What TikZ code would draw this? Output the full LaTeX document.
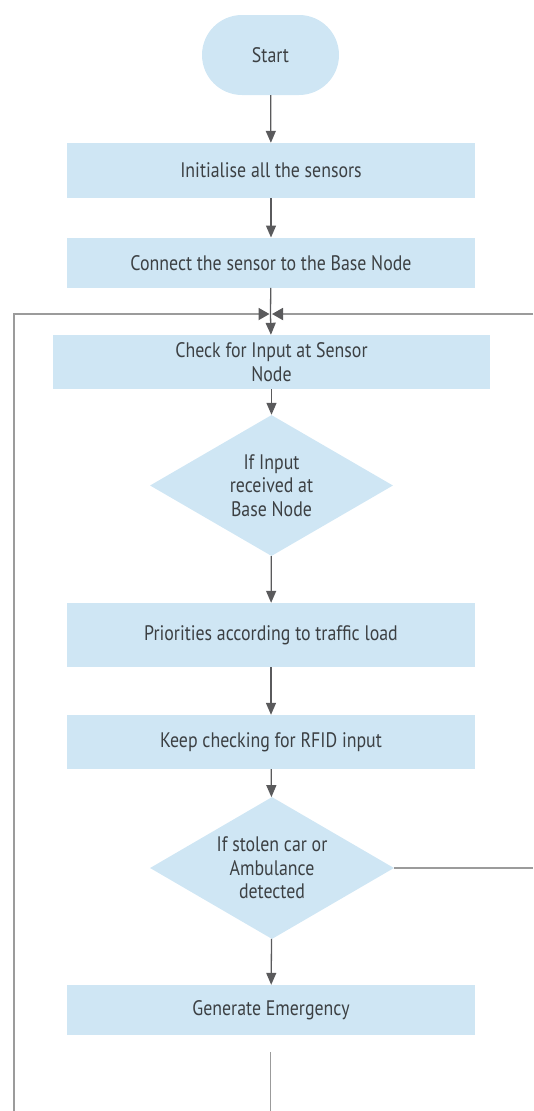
\documentclass[tikz,border=0pt]{standalone}
\usepackage{fontspec}
\setmainfont[FakeStretch=0.85]{PT Sans}
\usetikzlibrary{arrows.meta,shapes.geometric}
\definecolor{boxfill}{RGB}{207,230,244}
\definecolor{txtgray}{RGB}{60,64,67}
\definecolor{arrgray}{RGB}{90,90,92}
\definecolor{loopgray}{RGB}{155,155,155}
\tikzset{
  procbox/.style={rectangle, fill=boxfill, text=txtgray, minimum width=408pt, align=center, inner sep=0pt},
  decbox/.style={diamond, aspect=1.72, fill=boxfill, text=txtgray, align=center, inner sep=-15pt, minimum width=243pt, minimum height=141pt},
  flow/.style={draw=arrgray, line width=1.3pt, -{Triangle[length=12pt,width=10pt]}},
  loopline/.style={draw=loopgray, line width=1.8pt},
  looptip/.style={-{Triangle[length=11pt,width=12pt,color=arrgray]}},
}
\begin{document}
\begin{tikzpicture}[x=1pt,y=-1pt,font=\fontsize{21}{23.5}\selectfont]
      \useasboundingbox (0,0) rectangle (533,1111);
      \node[procbox, minimum width=137pt, minimum height=80pt, rounded corners=40pt] (start) at (270.5,55) {Start};
      \node[procbox, minimum height=55pt] (init) at (271,170.5) {Initialise all the sensors};
      \node[procbox, minimum height=50pt] (connect) at (271,262.7) {Connect the sensor to the Base Node};
      \node[procbox, minimum width=437pt, minimum height=54pt] (check) at (271.5,362) {Check for Input at Sensor\\Node};
      \node[decbox] (ifinput) at (271.5,485.5) {If Input\\received at\\Base Node};
      \node[procbox, minimum height=64pt] (prio) at (271,635) {Priorities according to traffic load};
      \node[procbox, minimum height=54pt] (rfid) at (271,742) {Keep checking for RFID input};
      \node[decbox, minimum width=244pt, minimum height=142pt] (ifstolen) at (272,868) {If stolen car or\\Ambulance\\detected};
      \node[procbox, minimum height=50pt] (emerg) at (271,1010) {Generate Emergency};

      \coordinate (join) at (270.5,314);
      \coordinate (leftbot) at (13.6,1111);
      \coordinate (leftup) at (13.6,314);
      \coordinate (rightup) at (533,314);
      \coordinate (rightout) at (533,868);
      \coordinate (tailtop) at (270.5,1052);
      \coordinate (tailbot) at (270.5,1111);

      \draw[flow] (start) -- (init);
      \draw[flow] (init) -- (connect);
      \draw[flow] (connect) -- (join) -- (check);
      \draw[flow] (check) -- (ifinput);
      \draw[flow] (ifinput) -- (prio);
      \draw[flow] (prio) -- (rfid);
      \draw[flow] (rfid) -- (ifstolen);
      \draw[flow] (ifstolen) -- (emerg);

      \draw[loopline, looptip] (leftbot) -- (leftup) -- ([xshift=-1pt]join);
      \draw[loopline, looptip] (rightup) -- ([xshift=1.5pt]join);
      \draw[loopline] (ifstolen.east) -- (rightout);
      \draw[loopline] (tailtop) -- (tailbot);
      \end{tikzpicture}
\end{document}
